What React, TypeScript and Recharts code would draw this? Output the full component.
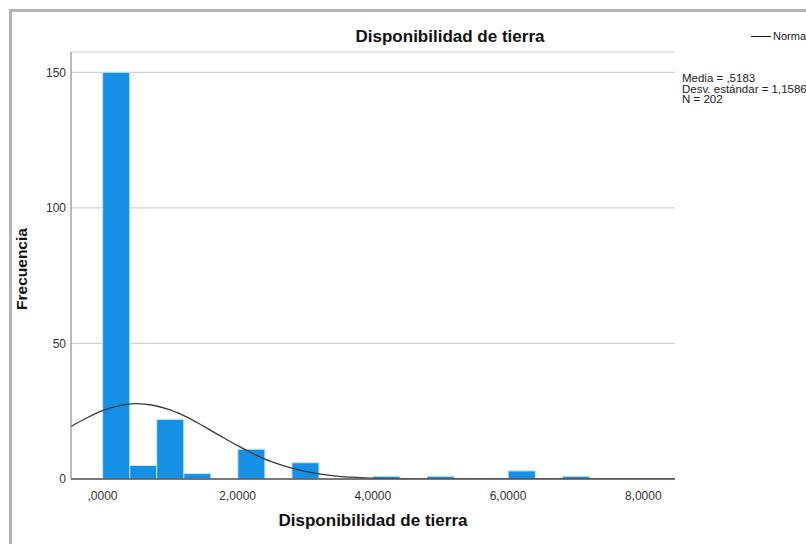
import {
  ComposedChart,
  Bar,
  Line,
  XAxis,
  YAxis,
  CartesianGrid,
} from "recharts";

// histogram bins (width 0.4)
const binStarts = [0.0, 0.4, 0.8, 1.2, 2.0, 2.8, 4.0, 4.8, 6.0, 6.8];
const binCounts = [150, 5, 22, 2, 11, 6, 1, 1, 3, 1];
const binWidth = 0.4;

// normal curve as drawn over the histogram
const curveX = [
  -0.5, -0.25, 0, 0.25, 0.5, 0.75, 1.0, 1.25, 1.5, 1.75, 2.0, 2.25, 2.5, 2.75,
  3.0, 3.25, 3.5, 3.75, 4.0, 4.25, 4.5, 4.75, 5.0, 5.5, 6.0, 7.0, 8.0, 8.5,
];
const curveY = [
  18.9, 22.3, 25.2, 27.1, 27.8, 27.2, 25.5, 22.8, 19.4, 15.8, 12.3, 9.1, 6.4,
  4.4, 2.8, 1.7, 1.0, 0.6, 0.3, 0.16, 0.08, 0.04, 0.02, 0, 0, 0, 0, 0,
];

const xTicks = [0, 2, 4, 6, 8];
const yTicks = [0, 50, 100, 150];
const statLines = ["Media = ,5183", "Desv. estándar = 1,1586", "N = 202"];

const FONT = '"Liberation Sans", Arial, sans-serif';

// plot area in pixels
const PLOT_LEFT = 71;
const PLOT_RIGHT = 675;
const X_MIN = -0.466;
const X_MAX = 8.47;
const BAR_PX = (binWidth * (PLOT_RIGHT - PLOT_LEFT)) / (X_MAX - X_MIN);

const barData = binStarts.map((s, i) => ({
  x: s + binWidth / 2,
  count: binCounts[i],
}));
const curveData = curveX.map((x, i) => ({ x, normal: curveY[i] }));

const fmtX = (v: number) =>
  v === 0 ? ",0000" : v.toFixed(4).replace(".", ",");

// bar drawn at full bin width, centred on the scaled bin centre
function BinShape(props: any) {
  const { x, y, width, height } = props;
  if (height == null || height <= 0) return null;
  const cx = x + width / 2;
  return (
    <rect
      x={cx - BAR_PX / 2}
      y={y}
      width={BAR_PX}
      height={height}
      fill="#1590e6"
      stroke="#c9e3f7"
      strokeWidth={1}
    />
  );
}

export default function App() {
  return (
    <div
      style={{
        position: "fixed",
        left: 0,
        top: 0,
        width: 806,
        height: 544,
        overflow: "hidden",
        background: "#fff",
        fontFamily: FONT,
      }}
    >
      {/* outer frame, cut off at right and bottom */}
      <div
        style={{
          position: "absolute",
          left: 9,
          top: 9,
          width: 1000,
          height: 1000,
          border: "3px solid #b3b3b3",
          boxSizing: "border-box",
        }}
      />
      <div style={{ position: "absolute", left: 0, top: 0 }}>
        <ComposedChart
          width={806}
          height={544}
          data={barData}
          margin={{ top: 52, right: 806 - PLOT_RIGHT, left: PLOT_LEFT - 40, bottom: 35 }}
        >
          <CartesianGrid
            vertical={false}
            stroke="#d2d2d2"
            strokeWidth={1.2}
          />
          <XAxis
            dataKey="x"
            type="number"
            domain={[X_MIN, X_MAX]}
            allowDataOverflow
            ticks={xTicks}
            tickFormatter={fmtX}
            tickLine={false}
            tickSize={0}
            tickMargin={12}
            height={30}
            axisLine={{ stroke: "#555", strokeWidth: 1.5 }}
            tick={{ fontSize: 12, fill: "#333", fontFamily: FONT }}
          />
          <YAxis
            type="number"
            domain={[0, 157.5]}
            allowDataOverflow
            ticks={yTicks}
            tickLine={false}
            tickSize={0}
            tickMargin={5}
            width={40}
            axisLine={{ stroke: "#8c8c8c", strokeWidth: 1.2 }}
            tick={{ fontSize: 12, fill: "#333", fontFamily: FONT }}
          />
          <Bar
            dataKey="count"
            shape={<BinShape />}
            isAnimationActive={false}
          />
          <Line
            data={curveData}
            dataKey="normal"
            type="monotone"
            stroke="#3a3a3a"
            strokeWidth={1.3}
            dot={false}
            activeDot={false}
            isAnimationActive={false}
          />
        </ComposedChart>
      </div>

      {/* title */}
      <div
        style={{
          position: "absolute",
          left: 300,
          width: 300,
          top: 27,
          textAlign: "center",
          fontWeight: "bold",
          fontSize: 17,
          color: "#111",
        }}
      >
        Disponibilidad de tierra
      </div>

      {/* x axis title */}
      <div
        style={{
          position: "absolute",
          left: 223,
          width: 300,
          top: 511,
          textAlign: "center",
          fontWeight: "bold",
          fontSize: 17,
          color: "#111",
        }}
      >
        Disponibilidad de tierra
      </div>

      {/* y axis title */}
      <div
        style={{
          position: "absolute",
          left: 22 - 60,
          width: 120,
          top: 260,
          textAlign: "center",
          fontWeight: "bold",
          fontSize: 15.5,
          color: "#111",
          transform: "rotate(-90deg)",
        }}
      >
        Frecuencia
      </div>

      {/* legend */}
      <div
        style={{
          position: "absolute",
          left: 751,
          top: 36,
          width: 20,
          height: 1.3,
          background: "#222",
        }}
      />
      <div
        style={{
          position: "absolute",
          left: 773,
          top: 30,
          fontSize: 11,
          color: "#222",
          whiteSpace: "nowrap",
        }}
      >
        Normal
      </div>

      {/* statistics */}
      <div
        style={{
          position: "absolute",
          left: 682,
          top: 73,
          fontSize: 11.5,
          lineHeight: "10.5px",
          color: "#222",
          whiteSpace: "nowrap",
        }}
      >
        {statLines.map((s) => (
          <div key={s}>{s}</div>
        ))}
      </div>
    </div>
  );
}
